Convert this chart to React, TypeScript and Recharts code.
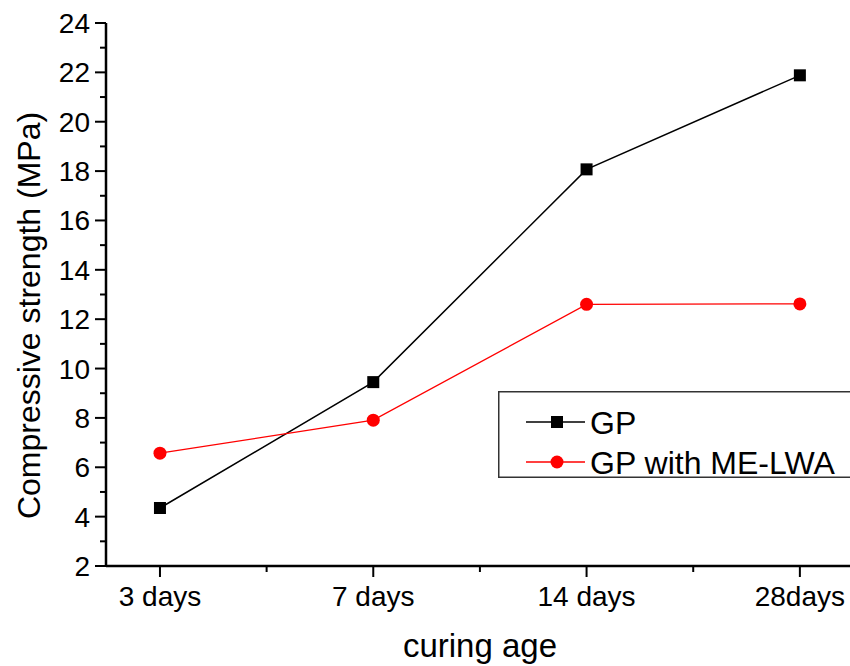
import { LineChart, Line, XAxis, YAxis } from "recharts";

const categories = ["3 days", "7 days", "14 days", "28days"];
const gpValues = [4.35, 9.45, 18.07, 21.88];
const lwaValues = [6.57, 7.91, 12.6, 12.62];
const yTicks = [2, 3, 4, 5, 6, 7, 8, 9, 10, 11, 12, 13, 14, 15, 16, 17, 18, 19, 20, 21, 22, 23, 24];
const xTicks = [1, 1.5, 2, 2.5, 3, 3.5, 4];

const data = categories.map((c, i) => ({ pos: i + 1, name: c, gp: gpValues[i], lwa: lwaValues[i] }));

const FONT = "'Liberation Sans', Arial, sans-serif";

function YTick({ x, y, payload }: any) {
  const v = payload.value;
  const major = v % 2 === 0;
  return (
    <g>
      <line x1={x - (major ? 11 : 6)} x2={x} y1={y} y2={y} stroke="#000" strokeWidth={2} />
      {major && (
        <text x={x - 16} y={y} dy={10} textAnchor="end" fontSize={28} fontFamily={FONT} fill="#000">
          {v}
        </text>
      )}
    </g>
  );
}

function XTick({ x, y, payload }: any) {
  const v = payload.value;
  const major = Number.isInteger(v);
  return (
    <g>
      <line x1={x} x2={x} y1={y} y2={y + (major ? 11 : 6)} stroke="#000" strokeWidth={2} />
      {major && (
        <text x={x} y={y + 40} textAnchor="middle" fontSize={28} fontFamily={FONT} fill="#000">
          {categories[v - 1]}
        </text>
      )}
    </g>
  );
}

function YLabel({ viewBox }: any) {
  const cy = viewBox.y + viewBox.height / 2 + 21;
  return (
    <text
      transform={`translate(40, ${cy}) rotate(-90)`}
      textAnchor="middle"
      fontSize={32}
      fontFamily={FONT}
      fill="#000"
    >
      Compressive strength (MPa)
    </text>
  );
}

function XLabel({ viewBox }: any) {
  return (
    <text x={480} y={viewBox.y + 91} textAnchor="middle" fontSize={33} fontFamily={FONT} fill="#000">
      curing age
    </text>
  );
}

// legend drawn in its own svg, box open on the right like the original
function LegendBox() {
  return (
    <svg width={352} height={110} style={{ position: "absolute", left: 498, top: 391, display: "block" }}>
      <path d="M352 0.75 H0.75 V86.25 H352" fill="#fff" stroke="#333" strokeWidth={1.5} />
      <line x1={28} x2={87} y1={31} y2={31} stroke="#000" strokeWidth={1.5} />
      <rect x={53} y={25} width={12} height={12} fill="#000" />
      <text x={92} y={43} fontSize={32} fontFamily={FONT} fill="#000">GP</text>
      <line x1={28} x2={87} y1={71} y2={71} stroke="#ff0000" strokeWidth={1.5} />
      <circle cx={59} cy={71} r={6.5} fill="#ff0000" />
      <text x={92} y={83} fontSize={32} fontFamily={FONT} fill="#000">GP with ME-LWA</text>
    </svg>
  );
}

export default function App() {
  return (
    <div style={{ position: "fixed", left: 0, top: 0, width: 850, height: 666, background: "#fff", overflow: "hidden" }}>
      <LineChart width={850} height={666} data={data} margin={{ top: 23, right: 0, left: 0, bottom: 0 }}>
        <XAxis
          dataKey="pos"
          type="number"
          domain={[0.747, 4.235]}
          ticks={xTicks}
          allowDataOverflow
          height={100}
          tickSize={0}
          tickMargin={0}
          tickLine={false}
          tick={<XTick />}
          axisLine={{ stroke: "#000", strokeWidth: 2.5 }}
          interval={0}
          label={<XLabel />}
        />
        <YAxis
          type="number"
          domain={[2, 24]}
          ticks={yTicks}
          width={106}
          tickSize={0}
          tickMargin={0}
          tickLine={false}
          tick={<YTick />}
          interval={0}
          axisLine={{ stroke: "#000", strokeWidth: 2.5 }}
          label={<YLabel />}
        />
        <Line
          dataKey="gp"
          stroke="#000"
          strokeWidth={1.5}
          isAnimationActive={false}
          dot={(p: any) => <rect key={p.index} x={p.cx - 6} y={p.cy - 6} width={12} height={12} fill="#000" />}
        />
        <Line
          dataKey="lwa"
          stroke="#ff0000"
          strokeWidth={1.3}
          isAnimationActive={false}
          dot={(p: any) => <circle key={p.index} cx={p.cx} cy={p.cy} r={6.5} fill="#ff0000" />}
        />
      </LineChart>
      <LegendBox />
    </div>
  );
}
